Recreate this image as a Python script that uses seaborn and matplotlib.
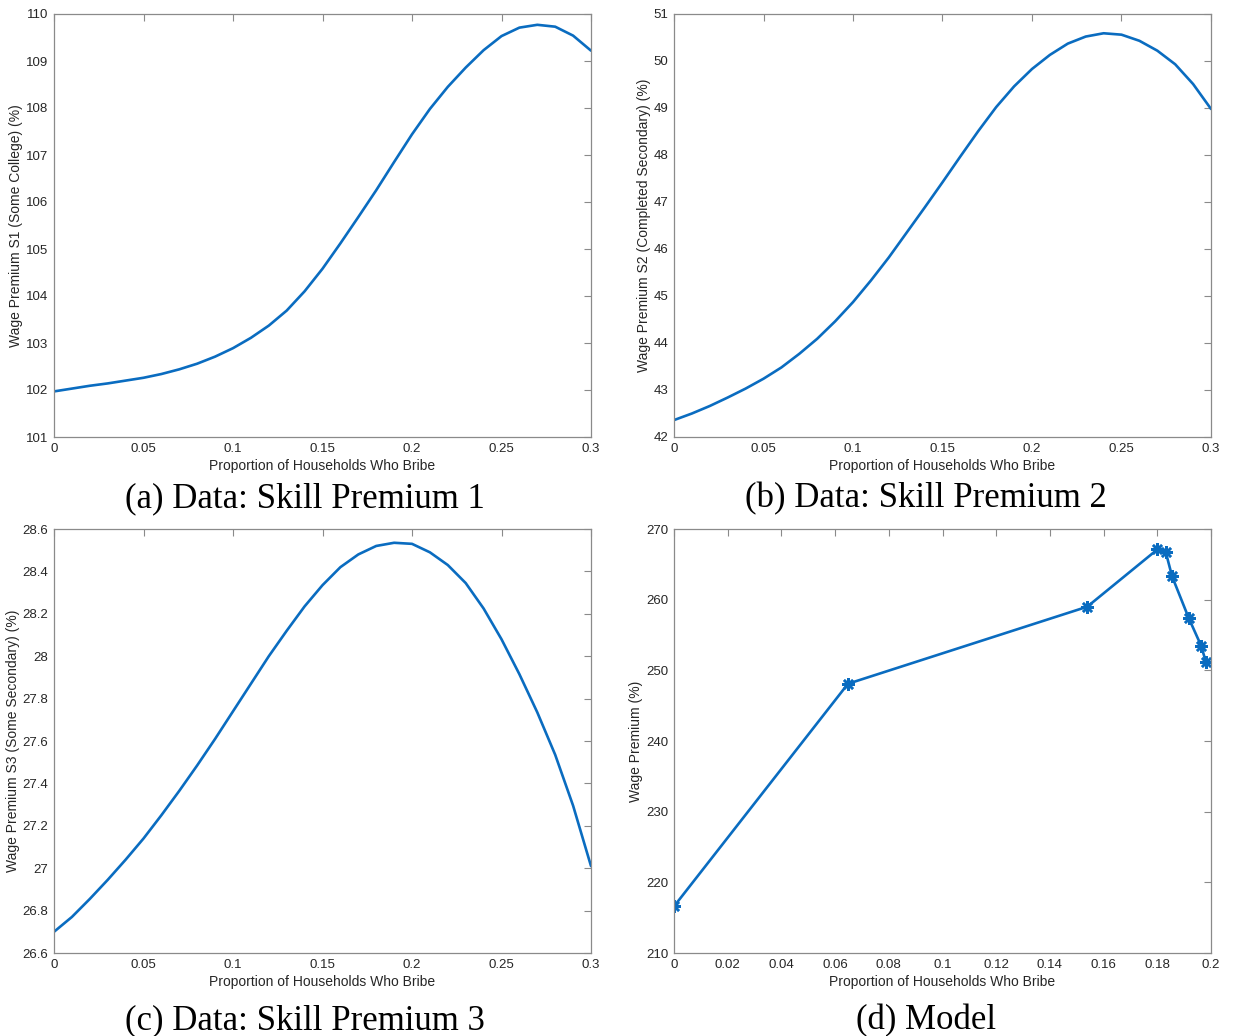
import matplotlib
matplotlib.use("Agg")
import matplotlib.pyplot as plt
import seaborn as sns
import pandas as pd
from matplotlib.ticker import FormatStrFormatter

# ---------------- data ----------------
x_data = [0.00, 0.01, 0.02, 0.03, 0.04, 0.05, 0.06, 0.07, 0.08, 0.09,
          0.10, 0.11, 0.12, 0.13, 0.14, 0.15, 0.16, 0.17, 0.18, 0.19,
          0.20, 0.21, 0.22, 0.23, 0.24, 0.25, 0.26, 0.27, 0.28, 0.29, 0.30]

premium_s1 = [101.97, 102.03, 102.09, 102.14, 102.20, 102.26, 102.34, 102.44, 102.56, 102.71,
              102.89, 103.11, 103.37, 103.69, 104.10, 104.58, 105.12, 105.68, 106.25, 106.85,
              107.44, 107.98, 108.45, 108.86, 109.23, 109.53, 109.71, 109.77, 109.73, 109.54, 109.22]

premium_s2 = [42.36, 42.50, 42.66, 42.84, 43.03, 43.24, 43.48, 43.77, 44.09, 44.46,
              44.87, 45.33, 45.82, 46.35, 46.88, 47.42, 47.97, 48.51, 49.02, 49.46,
              49.83, 50.13, 50.37, 50.52, 50.59, 50.56, 50.43, 50.22, 49.93, 49.51, 48.98]

premium_s3 = [26.70, 26.77, 26.855, 26.945, 27.04, 27.14, 27.25, 27.365, 27.485, 27.61,
              27.74, 27.87, 28.00, 28.12, 28.235, 28.335, 28.42, 28.48, 28.52, 28.535,
              28.53, 28.49, 28.43, 28.345, 28.225, 28.08, 27.915, 27.735, 27.535, 27.295, 27.01]

model_x = [0.0, 0.0648, 0.1539, 0.1800, 0.1831, 0.1855, 0.1917, 0.1963, 0.1981]
model_y = [216.6, 248.1, 259.0, 267.1, 266.8, 263.3, 257.4, 253.5, 251.2]

xticks_data = [0, 0.05, 0.1, 0.15, 0.2, 0.25, 0.3]
xticks_model = [0, 0.02, 0.04, 0.06, 0.08, 0.1, 0.12, 0.14, 0.16, 0.18, 0.2]
yticks_a = [101, 102, 103, 104, 105, 106, 107, 108, 109, 110]
yticks_b = [42, 43, 44, 45, 46, 47, 48, 49, 50, 51]
yticks_c = [26.6, 26.8, 27.0, 27.2, 27.4, 27.6, 27.8, 28.0, 28.2, 28.4, 28.6]
yticks_d = [210, 220, 230, 240, 250, 260, 270]

xlabel = "Proportion of Households Who Bribe"
ylabels = ["Wage Premium S1 (Some College) (%)",
           "Wage Premium S2 (Completed Secondary) (%)",
           "Wage Premium S3 (Some Secondary) (%)",
           "Wage Premium (%)"]
captions = ["(a) Data: Skill Premium 1", "(b) Data: Skill Premium 2",
            "(c) Data: Skill Premium 3", "(d) Model"]

# ---------------- style ----------------
sns.set_theme(style="white")
plt.rcParams['font.family'] = ['Liberation Sans', 'DejaVu Sans']

W, H = 1234, 1036
fig = plt.figure(figsize=(W / 100, H / 100), dpi=100)
fig.patch.set_facecolor("white")

LINE = "#0a6cc0"
SPINE = "#8a8a8a"
TXT = "#262626"


def rect(l, r, t, b):
    return [l / W, 1 - b / H, (r - l) / W, (b - t) / H]


panels = [
    dict(pos=rect(54, 591, 14, 437), x=x_data, y=premium_s1, xt=xticks_data, yt=yticks_a,
         xlim=(0, 0.3), ylim=(101, 110), marker=None, cap=(305, 507)),
    dict(pos=rect(674, 1211, 14, 437), x=x_data, y=premium_s2, xt=xticks_data, yt=yticks_b,
         xlim=(0, 0.3), ylim=(42, 51), marker=None, cap=(926, 507)),
    dict(pos=rect(54, 591, 529, 953), x=x_data, y=premium_s3, xt=xticks_data, yt=yticks_c,
         xlim=(0, 0.3), ylim=(26.6, 28.6), marker=None, cap=(305, 1029)),
    dict(pos=rect(674, 1211, 529, 953), x=model_x, y=model_y, xt=xticks_model, yt=yticks_d,
         xlim=(0, 0.2), ylim=(210, 270), marker="*", cap=(926, 1029)),
]

for i, p in enumerate(panels):
    ax = fig.add_axes(p["pos"])
    df = pd.DataFrame({"x": p["x"], "y": p["y"]})
    kw = dict(color=LINE, linewidth=1.9, sort=False, estimator=None)
    if p["marker"]:
        kw.update(marker=(8, 2, 0), markersize=9, markeredgewidth=1.8,
                  markeredgecolor=LINE, markerfacecolor=LINE)
    sns.lineplot(data=df, x="x", y="y", ax=ax, **kw)
    ax.set_xlim(*p["xlim"])
    ax.set_ylim(*p["ylim"])
    ax.set_xticks(p["xt"])
    ax.set_yticks(p["yt"])
    ax.xaxis.set_major_formatter(FormatStrFormatter("%g"))
    ax.yaxis.set_major_formatter(FormatStrFormatter("%g"))
    ax.tick_params(direction="in", length=5, width=0.8, color=SPINE,
                   top=True, right=True, labelsize=9.5, labelcolor=TXT, pad=4)
    for s in ax.spines.values():
        s.set_visible(True)
        s.set_color(SPINE)
        s.set_linewidth(0.9)
    ax.set_xlabel(xlabel, fontsize=10, color=TXT, labelpad=3)
    ax.set_ylabel(ylabels[i], fontsize=10, color=TXT, labelpad=2)
    ax.grid(False)
    cx, cy = p["cap"]
    fig.text(cx / W, 1 - cy / H, captions[i], ha="center", va="baseline",
             fontsize=25, color="black", family=["Liberation Serif", "DejaVu Serif"])

fig.savefig("out.png", dpi=100, facecolor="white")
